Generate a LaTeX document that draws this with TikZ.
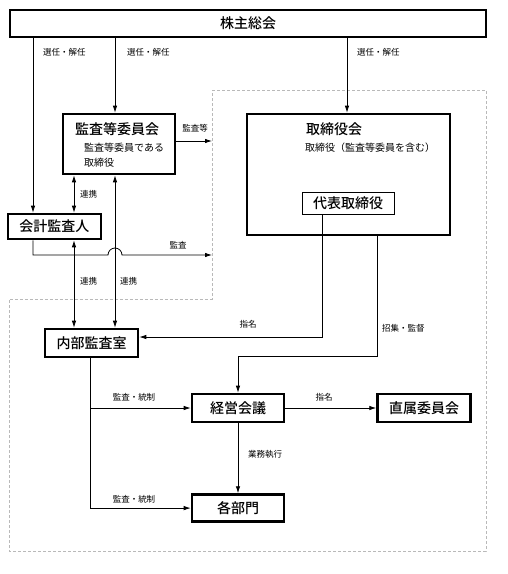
\documentclass[tikz,border=0pt]{standalone}
\usepackage{fontspec}
\setmainfont{Noto Sans CJK JP}[BoldFont={Noto Sans CJK JP Medium}]
\usetikzlibrary{positioning, arrows.meta, calc}

\begin{document}
\begin{tikzpicture}[
    x=1pt, y=-1pt,
    >={Latex[length=7pt,width=4.5pt]},
    % Styles
    box/.style={
        rectangle,
        draw,
        line width=2.6pt,
        inner sep=0pt,
        minimum height=28pt,
        minimum width=92pt,
        font=\fontsize{14}{16}\selectfont\bfseries
    },
    thinbox/.style={
        rectangle,
        draw,
        line width=0.9pt,
        inner sep=0pt,
        minimum height=22pt,
        minimum width=92pt,
        font=\fontsize{14}{16}\selectfont\bfseries
    },
    title/.style={
        inner sep=0pt,
        font=\fontsize{14}{16}\selectfont\bfseries
    },
    sub/.style={
        inner sep=0pt,
        align=left,
        font=\fontsize{10}{15}\selectfont
    },
    lbl/.style={
        inner sep=0pt,
        font=\fontsize{8.5}{10}\selectfont
    },
    arrow/.style={
        ->,
        line width=0.8pt
    },
    link/.style={
        <->,
        line width=0.8pt
    },
    region/.style={
        draw=gray!55,
        densely dashed,
        line width=0.6pt
    }
]
    \useasboundingbox (0,0) rectangle (507,574);

    % Region
    \draw[region] (212,90) -- (486,90) -- (486,551) -- (9,551) -- (9,299) -- (212,299) -- cycle;

    % Nodes
    \node[box, minimum width=476pt, minimum height=27pt] (kabu) at (248,23.5) {株主総会};

    \node[box, minimum width=112pt, minimum height=60pt] (kansa) at (119,144) {};
    \node[title] (kansatitle) at (117,129) {監査等委員会};
    \node[sub, anchor=north west] (kansasub) at (84,143) {監査等委員である\\取締役};

    \node[box, minimum width=203pt, minimum height=121pt] (tori) at (348.5,174.5) {};
    \node[title, anchor=west] (torititle) at (306,129) {取締役会};
    \node[sub, anchor=west] (torisub) at (305,148) {取締役（監査等委員を含む）};
    \node[thinbox] (daihyo) at (348,203) {代表取締役};

    \node[box, minimum width=93pt, minimum height=25pt] (kaikei) at (54.5,226.5) {会計監査人};
    \node[box, minimum width=93pt] (naibu) at (91.5,343) {内部監査室};
    \node[box] (keiei) at (238,408) {経営会議};
    \node[box, minimum width=93pt, right=91pt of keiei] (choku) {直属委員会};
    \node[box, minimum height=27pt, below=70pt of keiei] (kakubu) {各部門};

    % Bends
    \coordinate (xa) at (33,0);
    \coordinate (xb) at (115,0);
    \coordinate (xc) at (347,0);
    \coordinate (xd) at (74,0);
    \coordinate (xe) at (322,0);
    \coordinate (xf) at (377,0);
    \coordinate (xg) at (90,0);
    \coordinate (yn) at (0,337);
    \coordinate (yk) at (0,356);
    \coordinate (r1) at (212,141);
    \coordinate (r2) at (212,255);
    \coordinate (hop) at (108,255);

    % Paths
    \draw[arrow] (kabu.south -| xa) -- (kaikei.north -| xa);
    \draw[arrow] (kabu.south -| xb) -- (kansa.north -| xb);
    \draw[arrow] (kabu.south -| xc) -- (tori.north -| xc);
    \draw[arrow] (kansa.east |- r1) -- (r1);
    \draw[link] (kansa.south -| xd) -- (kaikei.north -| xd);
    \draw[arrow] (kaikei.south -| xa) -- (xa |- r2) -- (hop) arc[start angle=180, end angle=0, radius=7pt] -- (r2);
    \draw[link] (kaikei.south -| xd) -- (naibu.north -| xd);
    \draw[link] (kansa.south -| xb) -- (naibu.north -| xb);
    \draw[arrow] (daihyo.south -| xe) -- (xe |- yn) -- (naibu.east |- yn);
    \draw[arrow] (tori.south -| xf) -- (xf |- yk) -- (keiei.north |- yk) -- (keiei.north);
    \draw[arrow] (naibu.south -| xg) -- (xg |- kakubu.west) -- (kakubu.west);
    \draw[arrow] (xg |- keiei.west) -- (keiei.west);
    \draw[arrow] (keiei) -- (choku);
    \draw[arrow] (keiei) -- (kakubu);

    % Labels
    \node[lbl, anchor=west] (l1) at (43,52) {選任・解任};
    \node[lbl, anchor=west] (l2) at (127,52) {選任・解任};
    \node[lbl, anchor=west] (l3) at (357,52) {選任・解任};
    \node[lbl] (l4) at (195,128) {監査等};
    \node[lbl, anchor=west] (l5) at (80,194) {連携};
    \node[lbl] (l6) at (178,245) {監査};
    \node[lbl, anchor=west] (l7) at (80,281) {連携};
    \node[lbl, anchor=west] (l8) at (120,281) {連携};
    \node[lbl] (l9) at (248,324) {指名};
    \node[lbl, anchor=west] (l10) at (382,328) {招集・監督};
    \node[lbl] (l11) at (134,397) {監査・統制};
    \node[lbl] (l12) at (324,397) {指名};
    \node[lbl, anchor=west] (l13) at (248,454) {業務執行};
    \node[lbl] (l14) at (134,499) {監査・統制};
\end{tikzpicture}
\end{document}
